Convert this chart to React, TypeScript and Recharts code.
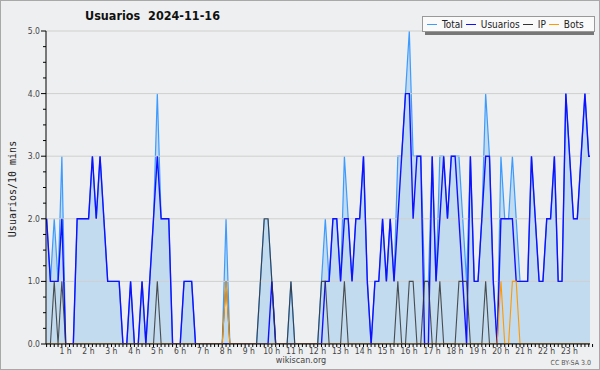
import { Area, ComposedChart, Line, ReferenceLine, XAxis, YAxis } from "recharts";

// one value per 10 minutes, 144 slots, grouped by hour
const slots = [
  0, 1, 2, 3, 4, 5, 6, 7, 8, 9, 10, 11, 12, 13, 14, 15, 16, 17, 18, 19, 20, 21, 22, 23,
  24, 25, 26, 27, 28, 29, 30, 31, 32, 33, 34, 35, 36, 37, 38, 39, 40, 41, 42, 43, 44, 45, 46, 47,
  48, 49, 50, 51, 52, 53, 54, 55, 56, 57, 58, 59, 60, 61, 62, 63, 64, 65, 66, 67, 68, 69, 70, 71,
  72, 73, 74, 75, 76, 77, 78, 79, 80, 81, 82, 83, 84, 85, 86, 87, 88, 89, 90, 91, 92, 93, 94, 95,
  96, 97, 98, 99, 100, 101, 102, 103, 104, 105, 106, 107, 108, 109, 110, 111, 112, 113, 114, 115, 116, 117, 118, 119,
  120, 121, 122, 123, 124, 125, 126, 127, 128, 129, 130, 131, 132, 133, 134, 135, 136, 137, 138, 139, 140, 141, 142, 143,
];

const total = [
  2, 1, 2, 1, 3, 0,  0, 0, 2, 2, 2, 2,  3, 2, 3, 2, 1, 1,  1, 1, 0, 0, 1, 0,
  0, 1, 0, 1, 2, 4,  2, 2, 2, 0, 0, 0,  1, 1, 1, 0, 0, 0,  0, 0, 0, 0, 0, 2,
  0, 0, 0, 0, 0, 0,  0, 0, 1, 2, 2, 1,  0, 0, 0, 0, 1, 0,  0, 0, 0, 0, 0, 0,
  1, 2, 1, 2, 2, 1,  3, 2, 1, 2, 2, 3,  1, 0, 1, 1, 2, 1,  2, 1, 3, 3, 4, 5,
  3, 3, 3, 1, 1, 3,  1, 3, 3, 2, 3, 3,  3, 2, 1, 3, 1, 1,  2, 4, 3, 1, 0, 3,
  2, 2, 3, 2, 1, 1,  1, 3, 2, 1, 1, 2,  2, 3, 1, 1, 4, 3,  2, 2, 3, 4, 3, 3,
];

const usuarios = [
  2, 1, 1, 1, 2, 0,  0, 0, 2, 2, 2, 2,  3, 2, 3, 2, 1, 1,  1, 1, 0, 0, 1, 0,
  0, 1, 0, 1, 2, 3,  2, 2, 2, 0, 0, 0,  1, 1, 1, 0, 0, 0,  0, 0, 0, 0, 0, 0,
  0, 0, 0, 0, 0, 0,  0, 0, 0, 0, 0, 1,  0, 0, 0, 0, 0, 0,  0, 0, 0, 0, 0, 0,
  0, 1, 1, 2, 2, 1,  2, 2, 1, 2, 2, 3,  1, 0, 1, 1, 2, 1,  2, 1, 2, 3, 4, 4,
  2, 3, 3, 0, 0, 3,  1, 2, 3, 2, 3, 3,  2, 1, 0, 3, 1, 1,  2, 3, 3, 1, 0, 2,
  2, 2, 2, 1, 1, 1,  1, 3, 2, 1, 1, 2,  2, 3, 1, 1, 4, 3,  2, 2, 3, 4, 3, 3,
];

const ip = [
  0, 0, 1, 0, 1, 0,  0, 0, 0, 0, 0, 0,  0, 0, 0, 0, 0, 0,  0, 0, 0, 0, 0, 0,
  0, 0, 0, 0, 0, 1,  0, 0, 0, 0, 0, 0,  0, 0, 0, 0, 0, 0,  0, 0, 0, 0, 0, 1,
  0, 0, 0, 0, 0, 0,  0, 0, 1, 2, 2, 1,  0, 0, 0, 0, 1, 0,  0, 0, 0, 0, 0, 0,
  1, 1, 0, 0, 0, 0,  1, 0, 0, 0, 0, 0,  0, 0, 0, 0, 0, 0,  0, 0, 1, 0, 0, 1,
  1, 0, 0, 1, 1, 0,  0, 1, 0, 0, 0, 0,  1, 1, 1, 0, 0, 0,  0, 1, 0, 0, 0, 0,
  0, 0, 0, 0, 0, 0,  0, 0, 0, 0, 0, 0,  0, 0, 0, 0, 0, 0,  0, 0, 0, 0, 0, 0,
];

const bots = [
  0, 0, 0, 0, 0, 0,  0, 0, 0, 0, 0, 0,  0, 0, 0, 0, 0, 0,  0, 0, 0, 0, 0, 0,
  0, 0, 0, 0, 0, 0,  0, 0, 0, 0, 0, 0,  0, 0, 0, 0, 0, 0,  0, 0, 0, 0, 0, 1,
  0, 0, 0, 0, 0, 0,  0, 0, 0, 0, 0, 0,  0, 0, 0, 0, 0, 0,  0, 0, 0, 0, 0, 0,
  0, 0, 0, 0, 0, 0,  0, 0, 0, 0, 0, 0,  0, 0, 0, 0, 0, 0,  0, 0, 0, 0, 0, 0,
  0, 0, 0, 0, 0, 0,  0, 0, 0, 0, 0, 0,  0, 0, 0, 0, 0, 0,  0, 0, 0, 0, 0, 1,
  0, 0, 1, 1, 0, 0,  0, 0, 0, 0, 0, 0,  0, 0, 0, 0, 0, 0,  0, 0, 0, 0, 0, 0,
];

const hourLabels = [
  "", "1 h", "2 h", "3 h", "4 h", "5 h", "6 h", "7 h", "8 h", "9 h", "10 h", "11 h",
  "12 h", "13 h", "14 h", "15 h", "16 h", "17 h", "18 h", "19 h", "20 h", "21 h", "22 h", "23 h",
];

const yTicks = [0, 0.25, 0.5, 0.75, 1, 1.25, 1.5, 1.75, 2, 2.25, 2.5, 2.75, 3, 3.25, 3.5, 3.75, 4, 4.25, 4.5, 4.75, 5];
const gridValues = [1, 2, 3, 4, 5];

const legendItems = [
  { name: "Total", color: "#3d9bff" },
  { name: "Usuarios", color: "#1010ff" },
  { name: "IP", color: "#333333" },
  { name: "Bots", color: "#ff9900" },
];

const data = slots.map((s, i) => ({
  s,
  total: total[i],
  usuarios: usuarios[i],
  ip: ip[i],
  bots: bots[i],
}));

const font = "'DejaVu Sans Condensed', 'DejaVu Sans', sans-serif";

function XTick({ x, y, payload }: any) {
  const v = payload.value as number;
  const isHour = v % 6 === 0 && v > 0;
  return (
    <g>
      <line x1={x} y1={y} x2={x} y2={y + 3} stroke="#000" />
      {isHour && (
        <text
          x={x - 4}
          y={y + 10}
          textAnchor="middle"
          fontSize={8.5}
          fontFamily={font}
          fill="#444"
          style={{ fontStretch: "condensed" }}
        >
          {hourLabels[v / 6]}
        </text>
      )}
    </g>
  );
}

function YTick({ x, y, payload }: any) {
  const v = payload.value as number;
  const major = Number.isInteger(v);
  return (
    <g>
      <line x1={x - (major ? 5 : 3)} y1={y} x2={x} y2={y} stroke="#000" />
      {major && (
        <text
          x={x - 6}
          y={y + 3}
          textAnchor="end"
          fontSize={8.5}
          fontFamily={font}
          fill="#444"
          style={{ fontStretch: "condensed" }}
        >
          {v.toFixed(1)}
        </text>
      )}
    </g>
  );
}

export default function App() {
  return (
    <div
      style={{
        position: "absolute",
        left: 0,
        top: 0,
        width: 600,
        height: 370,
        boxSizing: "border-box",
        border: "1px solid #a8a8a8",
        background: "#eeeff0",
        fontFamily: font,
        overflow: "hidden",
      }}
    >
      <div style={{ position: "absolute", left: -1, top: -1 }}>
        <ComposedChart width={600} height={370} data={data} margin={{ top: 31, right: 10, bottom: 0, left: 0 }}>
          {gridValues.map((g) => (
            <ReferenceLine key={g} y={g} stroke="#cfcfcf" strokeWidth={1} />
          ))}
          <XAxis
            dataKey="s"
            type="number"
            domain={[-0.157, 142.33]}
            allowDataOverflow
            ticks={slots}
            interval={0}
            tick={<XTick />}
            tickLine={false}
            tickSize={0}
            tickMargin={0}
            height={26}
            axisLine={{ stroke: "#000" }}
          />
          <YAxis
            domain={[0, 5]}
            ticks={yTicks}
            interval={0}
            tick={<YTick />}
            tickLine={false}
            tickSize={0}
            tickMargin={0}
            width={46}
            axisLine={{ stroke: "#000" }}
            allowDataOverflow
          />
          <Area
            type="linear"
            dataKey="total"
            stroke="#3d9bff"
            strokeWidth={1.2}
            fill="#c3dbef"
            fillOpacity={1}
            dot={false}
            activeDot={false}
            isAnimationActive={false}
          />
          <Line type="linear" dataKey="usuarios" stroke="#1010ff" strokeWidth={1.4} dot={false} activeDot={false} isAnimationActive={false} />
          <Line type="linear" dataKey="ip" stroke="#333333" strokeWidth={1.1} strokeOpacity={0.85} dot={false} activeDot={false} isAnimationActive={false} />
          <Line type="linear" dataKey="bots" stroke="#ff9900" strokeWidth={1.1} dot={false} activeDot={false} isAnimationActive={false} />
        </ComposedChart>
      </div>

      <div
        style={{
          position: "absolute",
          left: 84,
          top: 7,
          fontSize: 12.5,
          fontWeight: "bold",
          fontStretch: "condensed",
          color: "#111",
          whiteSpace: "pre",
        }}
      >
        {"Usuarios  2024-11-16"}
      </div>

      <div
        style={{
          position: "absolute",
          left: 11,
          top: 188,
          transform: "translate(-50%, -50%) rotate(-90deg)",
          fontFamily: "'DejaVu Sans Mono', monospace",
          fontSize: 10,
          color: "#222",
          whiteSpace: "nowrap",
        }}
      >
        Usuarios/10 mins
      </div>

      <div
        style={{
          position: "absolute",
          left: 424,
          top: 18,
          width: 169,
          height: 16,
          background: "#777",
        }}
      />
      <div
        style={{
          position: "absolute",
          left: 421,
          top: 15,
          width: 167,
          height: 14,
          background: "#fafafa",
          border: "1px solid #999",
          display: "flex",
          alignItems: "center",
          fontSize: 10,
          fontStretch: "condensed",
          color: "#222",
          paddingLeft: 4,
          boxSizing: "content-box",
        }}
      >
        {legendItems.map((it) => (
          <span key={it.name} style={{ display: "flex", alignItems: "center", marginRight: 3 }}>
            <span style={{ display: "inline-block", width: 10, height: 1, background: it.color, marginRight: 5 }} />
            {it.name}
          </span>
        ))}
      </div>

      <div
        style={{
          position: "absolute",
          left: 0,
          width: 600,
          top: 354,
          textAlign: "center",
          fontSize: 9,
          fontStretch: "condensed",
          color: "#444",
        }}
      >
        wikiscan.org
      </div>
      <div
        style={{
          position: "absolute",
          right: 8,
          top: 358,
          fontSize: 7,
          fontStretch: "condensed",
          color: "#555",
        }}
      >
        CC BY-SA 3.0
      </div>
    </div>
  );
}
